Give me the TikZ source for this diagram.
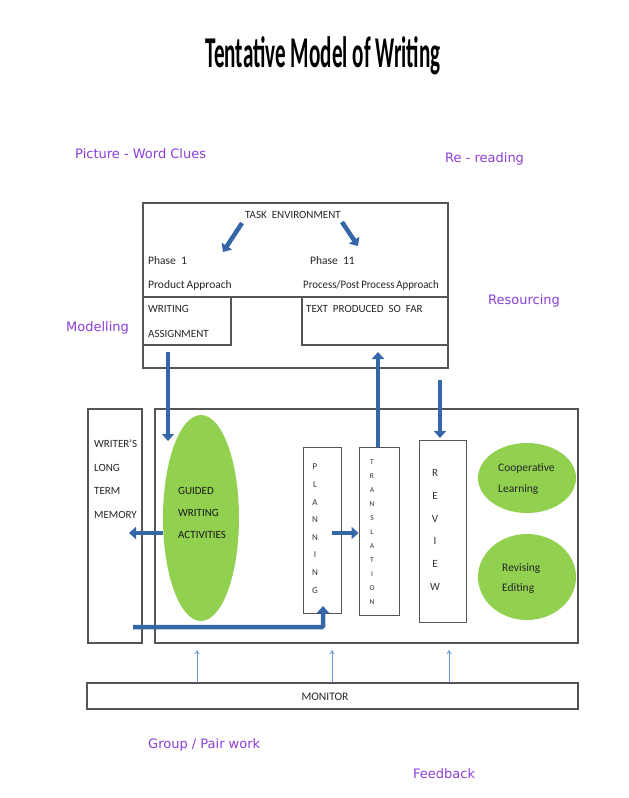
\documentclass[tikz,border=0pt]{standalone}
\usepackage{fontspec}
\usepackage{graphicx}
\setmainfont{Carlito}
\newfontfamily\handfont{DejaVu Sans}
\usetikzlibrary{arrows.meta,shapes.geometric}
\definecolor{ablue}{HTML}{3466A8}
\definecolor{tblue}{HTML}{6A9AD6}
\definecolor{lgreen}{HTML}{92D050}
\definecolor{hand}{HTML}{8B3FD6}
\definecolor{edge}{HTML}{555555}
\begin{document}
\begin{tikzpicture}[x=1pt,y=-1pt,
  box/.style={draw=edge,line width=1.1pt,rectangle,inner sep=0pt},
  blob/.style={fill=lgreen,draw=none,ellipse,inner sep=0pt},
  fat/.style={draw=ablue,line width=4.5pt,-{Triangle[width=12pt,length=7pt]}},
  monarrow/.style={draw=tblue,line width=0.8pt,-{To[length=4pt,width=5pt]}},
  txt/.style={inner sep=0pt,anchor=base west,font=\fontsize{11}{11}\selectfont,text=black!85},
  small/.style={font=\fontsize{11.5}{11.5}\selectfont},
  hw/.style={inner sep=0pt,anchor=base west,font=\fontsize{13}{13}\selectfont\handfont,text=hand},
  ltr/.style={inner sep=0pt,anchor=center,text=black!80}]
\useasboundingbox[fill=white] (0,0) rectangle (629,798);

% title
\node[inner sep=0pt,anchor=base] (title) at (323,67)
  {\scalebox{0.48}[1]{\fontsize{44}{44}\selectfont\bfseries Tentative Model of Writing}};

% handwritten labels
\node[hw] (l1) at (75,158) {Picture - Word Clues};
\node[hw] (l2) at (445,162) {Re - reading};
\node[hw] (l3) at (66,331) {Modelling};
\node[hw] (l4) at (488,304) {Resourcing};
\node[hw] (l5) at (148,748) {Group / Pair work};
\node[hw] (l6) at (413,778) {Feedback};

% task environment
\node[box,minimum width=305pt,minimum height=165pt] (task) at (295.5,285.5) {};
\draw[edge,line width=1.1pt] (143,297) -- (448,297);
\node[box,minimum width=88pt,minimum height=48pt] (wa) at (187,321) {};
\node[box,minimum width=146pt,minimum height=48pt] (tp) at (375,321) {};
\node[txt] (te) at (245,218) {TASK\ \ ENVIRONMENT};
\node[txt,small] (p1) at (148,264) {Phase\ \ 1};
\node[txt,small] (pa) at (148,288) {Product\,Approach};
\node[txt,small] (p2) at (310,264) {Phase\ \ 11};
\node[txt,small] (ppa) at (303,288) {\scalebox{0.94}[1]{Process/Post\,Process\,Approach}};
\node[txt] (wt1) at (148,312) {WRITING};
\node[txt] (wt2) at (148,337) {ASSIGNMENT};
\node[txt] (tpt) at (306,312) {TEXT\ \ PRODUCED\ \ SO\ \ FAR};
\coordinate (ta1) at (242,223); \coordinate (ta1e) at (223,252);
\coordinate (ta2) at (342,222); \coordinate (ta2e) at (358,246);
\draw[fat] (ta1) -- (ta1e);
\draw[fat] (ta2) -- (ta2e);

% lower area
\node[box,minimum width=423pt,minimum height=234pt] (lower) at (366.5,526) {};
\node[box,minimum width=54pt,minimum height=234pt] (wltm) at (115,526) {};
\node[txt] at (94,447) {WRITER'S};
\node[txt] at (94,471) {LONG};
\node[txt] at (94,494) {TERM};
\node[txt] at (94,518) {MEMORY};

\node[blob,minimum width=76pt,minimum height=206pt] (guided) at (201,518) {};
\node[txt,text=black!90] at (178,494) {GUIDED};
\node[txt,text=black!90] at (178,516) {WRITING};
\node[txt,text=black!90] at (178,538) {ACTIVITIES};

\node[box,line width=0.9pt,minimum width=38pt,minimum height=166pt] (plan) at (322,530) {};
\node[box,line width=0.9pt,minimum width=40pt,minimum height=168pt] (trans) at (379,531) {};
\node[box,line width=0.9pt,minimum width=47pt,minimum height=182pt] (rev) at (442.5,531) {};

\foreach \l [count=\i from 0] in {P,L,A,N,N,I,N,G}
  \node[ltr,font=\fontsize{9}{9}\selectfont] at (315,467+17.6*\i) {\l};
\foreach \l [count=\i from 0] in {T,R,A,N,S,L,A,T,I,O,N}
  \node[ltr,font=\fontsize{7.5}{7.5}\selectfont] at (372,462+14*\i) {\l};
\foreach \l [count=\i from 0] in {R,E,V,I,E,W}
  \node[ltr,font=\fontsize{11}{11}\selectfont] at (435,473+22.8*\i) {\l};

\node[blob,minimum width=98pt,minimum height=70pt] (coop) at (527,478) {};
\node[txt,small] at (498,471) {Cooperative};
\node[txt,small] at (498,492) {Learning};
\node[blob,minimum width=98pt,minimum height=86pt] (red) at (527,577) {};
\node[txt,small] at (502,571) {Revising};
\node[txt,small] at (502,591) {Editing};

% thick arrows
\coordinate (a3s) at (168,352); \coordinate (a3e) at (168,441);
\draw[fat] (a3s) -- (a3e);
\coordinate (a4e) at (378,352);
\draw[fat] (trans.north -| a4e) -- (a4e);
\coordinate (a5s) at (440,380); \coordinate (a5e) at (440,438);
\draw[fat] (a5s) -- (a5e);
\coordinate (a6s) at (163,533); \coordinate (a6e) at (129,533);
\draw[fat] (a6s) -- (a6e);
\coordinate (a7s) at (332,533);
\draw[fat] (a7s) -- (trans.west |- a7s);
\coordinate (a8s) at (133,627); \coordinate (a8e) at (323,606);
\draw[fat,rounded corners=1pt] (a8s) -| (a8e);

% monitor
\node[box,minimum width=491pt,minimum height=26pt] (mon) at (332.5,696) {};
\node[inner sep=0pt,font=\fontsize{11.5}{11.5}\selectfont,text=black!85] (mt) at (325,697) {MONITOR};
\foreach \xx in {197,332,449}
  \draw[monarrow] (\xx,682) -- (\xx,650);
\end{tikzpicture}
\end{document}
